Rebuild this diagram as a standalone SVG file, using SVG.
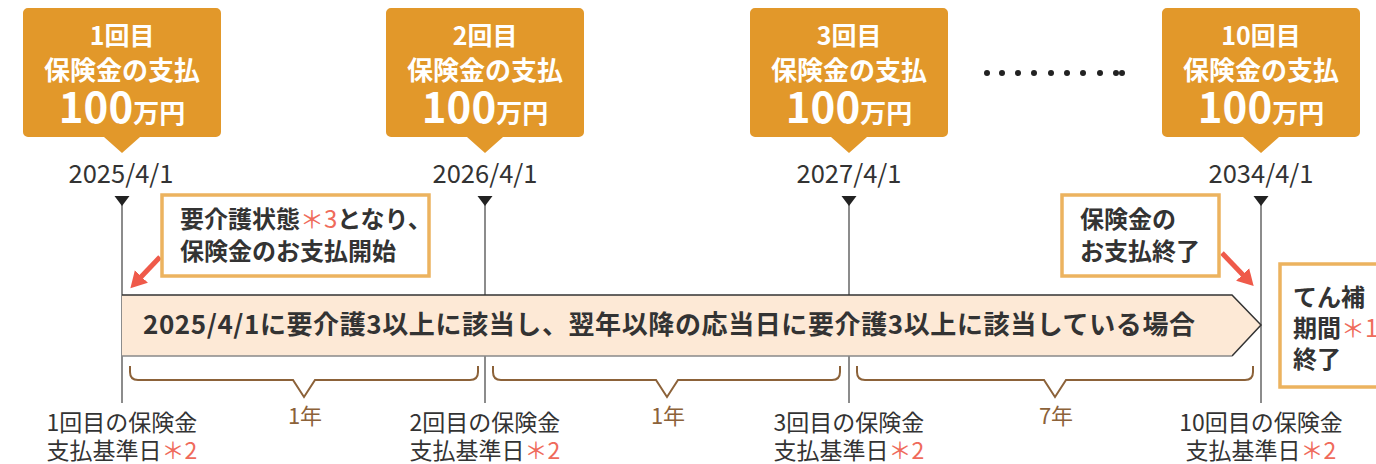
<svg xmlns="http://www.w3.org/2000/svg" width="1376" height="464" viewBox="0 0 1376 464">
<style>
text{font-family:"Noto Sans CJK JP","Noto Sans",sans-serif}
.cw{fill:#fff;font-weight:bold;text-anchor:middle}
.date{fill:#333;font-size:25.5px;text-anchor:middle}
.lbl{fill:#333;font-size:23px;text-anchor:middle}
.note{fill:#333;font-size:24px;font-weight:bold}
.red{fill:#ef6b5b;font-weight:normal}
.yr{fill:#8c6239;font-size:22px;text-anchor:middle}
.callout{fill:#e2982a}
.box{fill:#fff;stroke:#ecb35f;stroke-width:3.5}
.vline{stroke:#666;stroke-width:1.5}
.brace{fill:none;stroke:#8c6239;stroke-width:2}
.rarrow{stroke:#ef5a4a;stroke-width:5;fill:none}
</style>
<defs>
<path id="co" d="M-94,8 H94 A5,5 0 0 1 99,13 V132 A5,5 0 0 1 94,137 H18 L0,153 L-18,137 H-94 A5,5 0 0 1 -99,132 V13 A5,5 0 0 1 -94,8 Z"/>
<path id="tri" d="M-7.5,196 H7.5 L0,206 Z"/>
<marker id="rh" markerUnits="userSpaceOnUse" markerWidth="20" markerHeight="20" refX="2" refY="9" orient="auto" viewBox="0 0 20 18">
<path d="M0,0 L16,9 L0,18 Z" fill="#ef5a4a"/>
</marker>
</defs>

<g id="payment1" transform="translate(122,0)">
<use href="#co" class="callout"/>
<text class="cw" x="0" y="45" font-size="25">1回目</text>
<text class="cw" x="0" y="80" font-size="26">保険金の支払</text>
<text class="cw" x="0" y="123"><tspan font-size="42">100</tspan><tspan font-size="26">万円</tspan></text>
</g>
<g id="payment2" transform="translate(485,0)">
<use href="#co" class="callout"/>
<text class="cw" x="0" y="45" font-size="25">2回目</text>
<text class="cw" x="0" y="80" font-size="26">保険金の支払</text>
<text class="cw" x="0" y="123"><tspan font-size="42">100</tspan><tspan font-size="26">万円</tspan></text>
</g>
<g id="payment3" transform="translate(849,0)">
<use href="#co" class="callout"/>
<text class="cw" x="0" y="45" font-size="25">3回目</text>
<text class="cw" x="0" y="80" font-size="26">保険金の支払</text>
<text class="cw" x="0" y="123"><tspan font-size="42">100</tspan><tspan font-size="26">万円</tspan></text>
</g>
<g id="payment10" transform="translate(1261,0)">
<use href="#co" class="callout"/>
<text class="cw" x="0" y="45" font-size="25">10回目</text>
<text class="cw" x="0" y="80" font-size="26">保険金の支払</text>
<text class="cw" x="0" y="123"><tspan font-size="42">100</tspan><tspan font-size="26">万円</tspan></text>
</g>

<g id="dots" fill="#222">
<circle cx="987" cy="73" r="3"/><circle cx="1002" cy="73" r="3"/><circle cx="1018" cy="73" r="3"/>
<circle cx="1034" cy="73" r="3"/><circle cx="1051" cy="73" r="3"/><circle cx="1067" cy="73" r="3"/>
<circle cx="1083" cy="73" r="3"/><circle cx="1100" cy="73" r="3"/><circle cx="1116" cy="73" r="3"/>
<circle cx="1122" cy="73" r="3"/>
</g>

<g id="dates">
<text class="date" x="121" y="183">2025/4/1</text>
<text class="date" x="485" y="183">2026/4/1</text>
<text class="date" x="849" y="183">2027/4/1</text>
<text class="date" x="1261" y="183">2034/4/1</text>
</g>

<g id="connectors">
<line class="vline" x1="122" y1="200" x2="122" y2="403"/>
<line class="vline" x1="485" y1="200" x2="485" y2="403"/>
<line class="vline" x1="849" y1="200" x2="849" y2="403"/>
<line class="vline" x1="1261" y1="200" x2="1261" y2="403"/>
<use href="#tri" x="122" fill="#222"/>
<use href="#tri" x="485" fill="#222"/>
<use href="#tri" x="849" fill="#222"/>
<use href="#tri" x="1261" fill="#222"/>
<path class="brace" d="M130,366 V372 Q130,380 138,380 H293 L304,397 L315,380 H470 Q478,380 478,372 V366"/>
<path class="brace" d="M493,366 V372 Q493,380 501,380 H656 L667,397 L678,380 H832 Q840,380 840,372 V366"/>
<path class="brace" d="M857,366 V372 Q857,380 865,380 H1044 L1055,397 L1066,380 H1245 Q1253,380 1253,372 V366"/>
<line class="rarrow" x1="160" y1="257" x2="140" y2="278" marker-end="url(#rh)"/>
<line class="rarrow" x1="1222" y1="253" x2="1244" y2="276" marker-end="url(#rh)"/>
</g>

<g id="band">
<path d="M122,295 H1232 L1261,325 L1232,356 H122 Z" fill="#fde9d6"/>
<path d="M122,295 H1232 L1261,325 L1232,356" fill="none" stroke="#333" stroke-width="1.5"/>
<path d="M122,356 H1232" fill="none" stroke="#888" stroke-width="1.5"/>
<text x="143" y="334" font-size="26" font-weight="bold" fill="#333" textLength="1052">2025/4/1に要介護3以上に該当し、翌年以降の応当日に要介護3以上に該当している場合</text>
</g>

<g id="years">
<text class="yr" x="305" y="424">1年</text>
<text class="yr" x="668" y="424">1年</text>
<text class="yr" x="1056" y="424">7年</text>
</g>

<g id="note-start">
<rect class="box" x="162" y="195" width="267" height="81"/>
<text class="note" x="180" y="228">要介護状態<tspan class="red">＊3</tspan>となり、</text>
<text class="note" x="180" y="260">保険金のお支払開始</text>
</g>
<g id="note-end">
<rect class="box" x="1062" y="195" width="157" height="81"/>
<text class="note" x="1080" y="228">保険金の</text>
<text class="note" x="1080" y="260">お支払終了</text>
</g>
<g id="note-period">
<rect class="box" x="1280" y="264" width="110" height="123"/>
<text class="note" x="1293" y="306">てん補</text>
<text class="note" x="1293" y="337">期間<tspan class="red">＊1</tspan></text>
<text class="note" x="1293" y="368">終了</text>
</g>

<g id="base-dates">
<text class="lbl" x="122" y="431">1回目の保険金</text>
<text class="lbl" x="122" y="459">支払基準日<tspan class="red">＊2</tspan></text>
<text class="lbl" x="485" y="431">2回目の保険金</text>
<text class="lbl" x="485" y="459">支払基準日<tspan class="red">＊2</tspan></text>
<text class="lbl" x="849" y="431">3回目の保険金</text>
<text class="lbl" x="849" y="459">支払基準日<tspan class="red">＊2</tspan></text>
<text class="lbl" x="1261" y="431">10回目の保険金</text>
<text class="lbl" x="1261" y="459">支払基準日<tspan class="red">＊2</tspan></text>
</g>
</svg>
